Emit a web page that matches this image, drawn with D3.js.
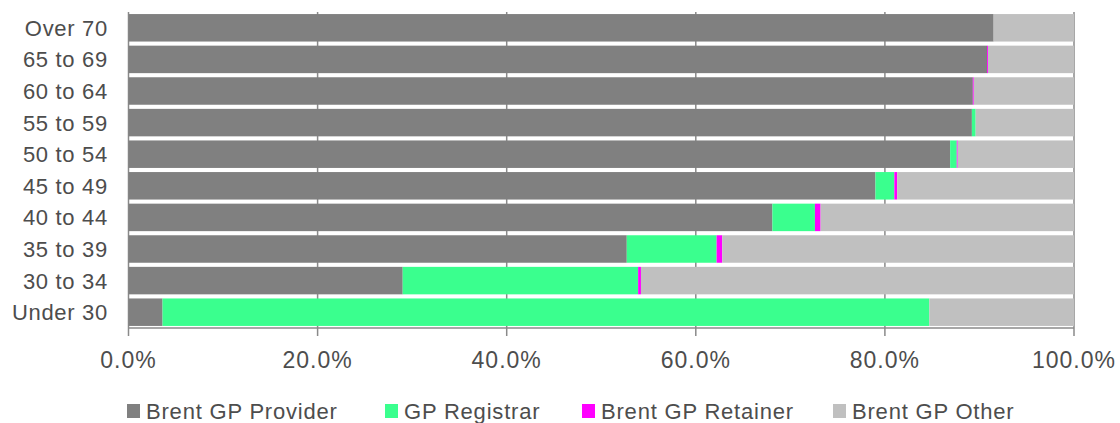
<!DOCTYPE html>
<html>
<head>
<meta charset="utf-8">
<script src="https://cdn.jsdelivr.net/npm/d3@7"></script>
<style>
  html, body { margin: 0; padding: 0; background: #fff; }
  svg { display: block; }
  text { font-family: "Liberation Sans", Arial, sans-serif; fill: #4d4d4d; }
</style>
</head>
<body>
<svg id="chart" width="1120" height="423"></svg>
<script>
const categories = ["Over 70", "65 to 69", "60 to 64", "55 to 59", "50 to 54", "45 to 49", "40 to 44", "35 to 39", "30 to 34", "Under 30"];
const seriesNames = ["Brent GP Provider", "GP Registrar", "Brent GP Retainer", "Brent GP Other"];
const provider  = [91.5, 90.8, 89.3, 89.2, 86.9, 79.0, 68.1, 52.7, 29.0, 3.6];
const registrar = [0.0, 0.0, 0.0, 0.4, 0.7, 2.0, 4.5, 9.5, 24.9, 81.1];
const retainer  = [0.0, 0.1, 0.1, 0.0, 0.1, 0.3, 0.6, 0.6, 0.3, 0.0];
const other     = [8.5, 9.1, 10.6, 10.4, 12.3, 18.7, 26.8, 37.2, 45.8, 15.3];
const xTicks = [0, 20, 40, 60, 80, 100];
const colors = ["#808080", "#3AFF8E", "#FF00FF", "#C0C0C0"];

const rows = categories.map((c, i) => ({
  cat: c,
  "Brent GP Provider": provider[i],
  "GP Registrar": registrar[i],
  "Brent GP Retainer": retainer[i],
  "Brent GP Other": other[i]
}));

const svg = d3.select("#chart");
const pLeft = 128.5, pRight = 1074, pTop = 12, pBottom = 328;

const x = d3.scaleLinear().domain([0, 100]).range([pLeft, pRight]);
const y = d3.scaleBand().domain(categories).range([pTop, pBottom]).paddingInner(0.13).paddingOuter(0.065);
const color = d3.scaleOrdinal().domain(seriesNames).range(colors);

// gridlines (behind bars)
svg.append("g").selectAll("line").data(xTicks).join("line")
  .attr("x1", d => x(d)).attr("x2", d => x(d))
  .attr("y1", pTop).attr("y2", pBottom + 8)
  .attr("stroke", "#8a8a8a").attr("stroke-width", 1.5);

// bars
const stacked = d3.stack().keys(seriesNames)(rows);
svg.append("g").selectAll("g").data(stacked).join("g")
  .attr("fill", d => color(d.key))
  .selectAll("rect").data(d => d).join("rect")
  .attr("x", d => x(d[0]))
  .attr("width", d => Math.max(0, x(d[1]) - x(d[0])))
  .attr("y", d => y(d.data.cat))
  .attr("height", y.bandwidth());

// bottom axis line
svg.append("line")
  .attr("x1", pLeft).attr("x2", pRight)
  .attr("y1", pBottom).attr("y2", pBottom)
  .attr("stroke", "#8a8a8a").attr("stroke-width", 1.5);

// x tick labels
svg.append("g").selectAll("text").data(xTicks).join("text")
  .attr("x", d => x(d)).attr("y", 368)
  .attr("text-anchor", "middle")
  .style("font-size", "23px")
  .style("letter-spacing", "1px")
  .text(d => d3.format(".1f")(d) + "%");

// y labels
svg.append("g").selectAll("text").data(categories).join("text")
  .attr("x", 108).attr("y", d => y(d) + y.bandwidth() / 2)
  .attr("dy", "0.36em")
  .attr("text-anchor", "end")
  .style("font-size", "22px")
  .style("letter-spacing", "0.7px")
  .text(d => d);

// legend
const legendX = [127, 385, 582, 833];
const lg = svg.append("g").selectAll("g").data(seriesNames).join("g")
  .attr("transform", (d, i) => `translate(${legendX[i]},0)`);
lg.append("rect").attr("x", 0).attr("y", 404).attr("width", 13).attr("height", 14)
  .attr("fill", d => color(d));
lg.append("text").attr("x", 19).attr("y", 419)
  .style("font-size", "22px")
  .style("letter-spacing", "0.8px")
  .text(d => d);
</script>
</body>
</html>
